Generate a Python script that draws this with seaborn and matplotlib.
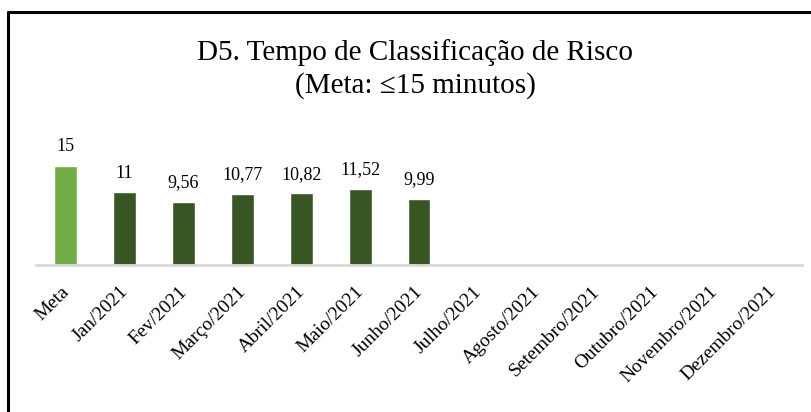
import matplotlib
matplotlib.use("Agg")
import matplotlib.pyplot as plt
import matplotlib.transforms as mtransforms
import seaborn as sns
import pandas as pd
from matplotlib.lines import Line2D

categories = ["Meta", "Jan/2021", "Fev/2021", "Março/2021", "Abril/2021",
              "Maio/2021", "Junho/2021", "Julho/2021", "Agosto/2021",
              "Setembro/2021", "Outubro/2021", "Novembro/2021", "Dezembro/2021"]
values = [15, 11, 9.56, 10.77, 10.82, 11.52, 9.99,
          None, None, None, None, None, None]
value_labels = ["15", "11", "9,56", "10,77", "10,82", "11,52", "9,99"]

meta_color = "#70AD47"
month_color = "#375623"


def main():
    sns.set_theme(style="white")
    plt.rcParams["font.family"] = ["Liberation Serif", "DejaVu Serif"]
    plt.rcParams["text.color"] = "black"
    plt.rcParams["xtick.color"] = "black"

    df = pd.DataFrame({"Mes": categories, "Tempo": values})
    df["Tempo"] = df["Tempo"].fillna(0)
    palette = [meta_color] + [month_color] * (len(categories) - 1)

    fig = plt.figure(figsize=(8.11, 4.12), dpi=100)
    ax = fig.add_axes([36 / 811, 1 - 265 / 412, (802 - 36) / 811, 106 / 412])
    sns.barplot(data=df, x="Mes", y="Tempo", hue="Mes", palette=palette,
                legend=False, width=0.39, ax=ax, saturation=1)

    ax.set_ylim(0, 16)
    ax.set_xlim(-0.5, len(categories) - 0.5)
    ax.set_xlabel("")
    ax.set_ylabel("")
    ax.set_yticks([])
    for side in ["top", "right", "left"]:
        ax.spines[side].set_visible(False)
    ax.spines["bottom"].set_color("#d9d9d9")
    ax.spines["bottom"].set_linewidth(2)

    ax.set_xticks(range(len(categories)))
    ax.set_xticklabels(categories, rotation=45, ha="right",
                       rotation_mode="anchor", fontsize=14)
    ax.tick_params(axis="x", length=0, pad=13)
    shift = mtransforms.ScaledTranslation(-5 / 100, 0, fig.dpi_scale_trans)
    for lab in ax.get_xticklabels():
        lab.set_transform(lab.get_transform() + shift)

    for i, lab in enumerate(value_labels):
        ax.annotate(lab, (i, values[i]), xytext=(0, 10.5),
                    textcoords="offset points", ha="center", va="baseline",
                    fontsize=13, annotation_clip=False)

    fig.text(415 / 811, 1 - 60 / 412, "D5. Tempo de Classificação de Risco",
             ha="center", va="baseline", fontsize=21)
    fig.text(415 / 811, 1 - 93 / 412, "(Meta: ≤15 minutos)",
             ha="center", va="baseline", fontsize=21)

    # chart border (only top and left visible in the crop)
    fig.add_artist(Line2D([8 / 811, 1], [1 - 12 / 412, 1 - 12 / 412],
                          color="black", linewidth=2.2,
                          transform=fig.transFigure))
    fig.add_artist(Line2D([8 / 811, 8 / 811], [0, 1 - 12 / 412],
                          color="black", linewidth=2.2,
                          transform=fig.transFigure))

    fig.savefig("out.png", dpi=100, facecolor="white")


if __name__ == "__main__":
    main()
